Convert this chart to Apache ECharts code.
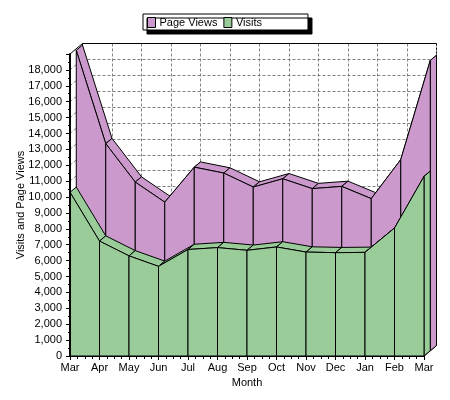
<!DOCTYPE html>
<html>
<head>
<meta charset="utf-8">
<script src="https://cdn.jsdelivr.net/npm/echarts@6/dist/echarts.min.js"></script>
<style>
html,body{margin:0;padding:0;background:#fff;}
#chart{width:450px;height:400px;}
</style>
</head>
<body>
<div id="chart"></div>
<script>
const months = ['Mar','Apr','May','Jun','Jul','Aug','Sep','Oct','Nov','Dec','Jan','Feb','Mar'];
const pageViews = [18900, 13030, 10610, 9350, 11550, 11180, 10300, 10820, 10200, 10340, 9570, 12030, 18260];
const visits = [10300, 7230, 6300, 5640, 6700, 6820, 6650, 6860, 6540, 6500, 6520, 8050, 11300];
const yTicks = [0,1000,2000,3000,4000,5000,6000,7000,8000,9000,10000,11000,12000,13000,14000,15000,16000,17000,18000];
const yMax = 19000;

const DX = 12.5, DY = -10.5;
const FONT = '"Liberation Sans", Arial, sans-serif';
const PURPLE = '#CC99CC', GREEN = '#99CC99';
const last = months.length - 1;

function segData(arr) {
  return arr.map((v, i) => [i, v, i < arr.length - 1 ? arr[i + 1] : v]);
}

function slab(z0, z1, color) {
  return function (params, api) {
    const i = api.value(0), a = api.value(1), b = api.value(2);
    const p = (x, y, f) => { const c = api.coord([x, y]); return [c[0] + DX * f, c[1] + DY * f]; };
    const st = { fill: color, stroke: '#000', lineWidth: 1 };
    const ch = [];
    if (i < last) {
      ch.push({ type: 'polygon', z2: 1, shape: { points: [p(i, a, z0), p(i + 1, b, z0), p(i + 1, b, z1), p(i, a, z1)] }, style: st });
      ch.push({ type: 'polygon', z2: 2, shape: { points: [p(i, 0, z0), p(i, a, z0), p(i + 1, b, z0), p(i + 1, 0, z0)] }, style: st });
    } else {
      ch.push({ type: 'polygon', z2: 1, shape: { points: [p(i, 0, z0), p(i, a, z0), p(i, a, z1), p(i, 0, z1)] }, style: st });
    }
    return { type: 'group', children: ch };
  };
}

function walls(params, api) {
  const p = (x, y, f) => { const c = api.coord([x, y]); return [c[0] + DX * f, c[1] + DY * f]; };
  const ch = [];
  yTicks.forEach(v => {
    const a = p(0, v, 0), b = p(0, v, 1);
    ch.push({ type: 'line', shape: { x1: a[0], y1: a[1], x2: b[0], y2: b[1] }, style: { stroke: '#808080', lineWidth: 1, lineDash: [3, 2] } });
  });
  const seg = (a, b, dash) => ch.push({ type: 'line', shape: { x1: a[0], y1: a[1], x2: b[0], y2: b[1] }, style: { stroke: '#000', lineWidth: 1, lineDash: dash || null } });
  seg(p(0, yMax, 0), p(0, yMax, 1));
  seg(p(0, yMax, 1), p(last, yMax, 1));
  seg(p(last, 0, 0), p(last, 0, 1));
  seg(p(0, 0, 1), p(0, yMax, 1));
  return { type: 'group', children: ch };
}

function backEdge(params, api) {
  const p = (x, y, f) => { const c = api.coord([x, y]); return [c[0] + DX * f, c[1] + DY * f]; };
  const a = p(last, 0, 1), b = p(last, yMax, 1);
  return { type: 'line', shape: { x1: a[0], y1: a[1], x2: b[0], y2: b[1] }, style: { stroke: '#000', lineWidth: 1, lineDash: [2, 2] } };
}

const chart = echarts.init(document.getElementById('chart'), null, { renderer: 'canvas' });
const option = {
  animation: false,
  backgroundColor: '#fff',
  textStyle: { fontFamily: FONT },
  legend: {
    data: ['Page Views', 'Visits'],
    left: 143, top: 14,
    padding: [3, 46, 2, 4],
    itemGap: 6,
    itemWidth: 8, itemHeight: 10,
    icon: 'rect',
    backgroundColor: '#fff',
    borderColor: '#000', borderWidth: 1, borderRadius: 0,
    shadowColor: '#000', shadowBlur: 0, shadowOffsetX: 4, shadowOffsetY: 4,
    itemStyle: { borderColor: '#000', borderWidth: 1 },
    textStyle: { fontFamily: FONT, fontSize: 11, color: '#000', padding: [0, 0, 0, -1] }
  },
  grid: [
    { left: 70, right: 26, top: 54, bottom: 44, outerBoundsMode: 'none' },
    { left: 70 + DX, right: 26 - DX, top: 54 + DY, bottom: 44 - DY, outerBoundsMode: 'none' }
  ],
  xAxis: [
    {
      type: 'value', gridIndex: 0, min: 0, max: last, interval: 1, z: 10,
      axisLine: { show: true, lineStyle: { color: '#000', width: 1 } },
      axisTick: { show: true, length: 4, lineStyle: { color: '#000' } },
      minorTick: { show: true, splitNumber: 4, length: 3, lineStyle: { color: '#000' } },
      splitLine: { show: false },
      axisLabel: { color: '#000', fontSize: 11, margin: 6, fontFamily: FONT, formatter: v => months[v] },
      name: 'Month', nameLocation: 'middle', nameGap: 21, nameMoveOverlap: false,
      nameTextStyle: { color: '#000', fontSize: 11, fontFamily: FONT }
    },
    {
      type: 'value', gridIndex: 1, min: 0, max: last, interval: 1,
      axisLine: { show: false }, axisTick: { show: false }, axisLabel: { show: false },
      splitLine: { show: true, lineStyle: { color: '#808080', type: [3, 2], width: 1 } }
    }
  ],
  yAxis: [
    {
      type: 'value', gridIndex: 0, min: 0, max: yMax, interval: 1000, z: 10,
      axisLine: { show: true, lineStyle: { color: '#000', width: 2 } },
      axisTick: { show: true, length: 4, lineStyle: { color: '#000' } },
      minorTick: { show: true, splitNumber: 2, length: 2, lineStyle: { color: '#000' } },
      splitLine: { show: false },
      axisLabel: { color: '#000', fontSize: 11, margin: 8, fontFamily: FONT,
        formatter: v => (v >= yMax ? '' : v.toLocaleString('en-US')) },
      name: 'Visits and Page Views', nameLocation: 'middle', nameGap: 44, nameRotate: 90, nameMoveOverlap: false,
      nameTextStyle: { color: '#000', fontSize: 11, fontFamily: FONT }
    },
    {
      type: 'value', gridIndex: 1, min: 0, max: yMax, interval: 1000,
      axisLine: { show: false }, axisTick: { show: false }, axisLabel: { show: false },
      splitLine: { show: true, lineStyle: { color: '#808080', type: [3, 2], width: 1 } }
    }
  ],
  series: [
    { type: 'custom', name: 'walls', silent: true, z: 1, xAxisIndex: 0, yAxisIndex: 0,
      data: [[0]], renderItem: walls },
    { type: 'custom', name: 'Page Views', z: 3, xAxisIndex: 0, yAxisIndex: 0,
      itemStyle: { color: PURPLE, borderColor: '#000', borderWidth: 1 },
      data: segData(pageViews), renderItem: slab(0.5, 1, PURPLE) },
    { type: 'custom', name: 'Visits', z: 4, xAxisIndex: 0, yAxisIndex: 0,
      itemStyle: { color: GREEN, borderColor: '#000', borderWidth: 1 },
      data: segData(visits), renderItem: slab(0, 0.5, GREEN) },
    { type: 'custom', name: 'edge', silent: true, z: 5, xAxisIndex: 0, yAxisIndex: 0,
      data: [[0]], renderItem: backEdge }
  ]
};
chart.setOption(option);
</script>
</body>
</html>
